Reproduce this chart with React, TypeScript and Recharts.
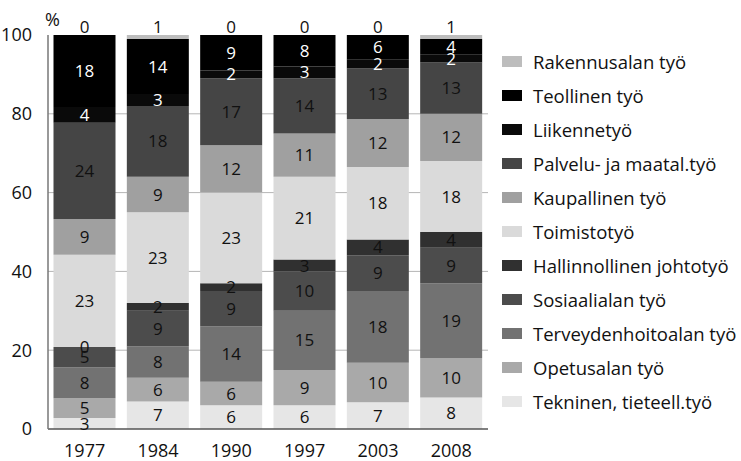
import React from 'react';
import { BarChart, Bar, XAxis, YAxis, CartesianGrid, LabelList } from 'recharts';

const years = ['1977', '1984', '1990', '1997', '2003', '2008'];

// stack order, bottom to top
const tekninen = [2.8, 7, 6, 6, 6.8, 8];
const opetus = [5, 6, 6, 9, 10, 10];
const terveys = [7.9, 8, 14, 15, 18.2, 19];
const sosiaali = [5.1, 9, 9, 10, 9.1, 9];
const hallinto = [0, 2, 2, 3, 4, 4];
const toimisto = [23.4, 23, 23, 21, 18.4, 18];
const kaupallinen = [9.1, 9, 12, 11, 12.2, 12];
const palvelu = [24.4, 18, 17, 14, 12.8, 13];
const liikenne = [4, 3, 2, 3, 2.2, 2];
const teollinen = [18.3, 14, 9, 8, 6.3, 4];
const rakennus = [0, 1, 0, 0, 0, 1];

const series = [
  { key: 'tekninen', name: 'Tekninen, tieteell.työ', values: tekninen, color: '#e6e6e6', text: '#111' },
  { key: 'opetus', name: 'Opetusalan työ', values: opetus, color: '#a9a9a9', text: '#111' },
  { key: 'terveys', name: 'Terveydenhoitoalan työ', values: terveys, color: '#727272', text: '#111' },
  { key: 'sosiaali', name: 'Sosiaalialan työ', values: sosiaali, color: '#4c4c4c', text: '#111' },
  { key: 'hallinto', name: 'Hallinnollinen johtotyö', values: hallinto, color: '#303030', text: '#111' },
  { key: 'toimisto', name: 'Toimistotyö', values: toimisto, color: '#dadada', text: '#111' },
  { key: 'kaupallinen', name: 'Kaupallinen työ', values: kaupallinen, color: '#a0a0a0', text: '#111' },
  { key: 'palvelu', name: 'Palvelu- ja maatal.työ', values: palvelu, color: '#454545', text: '#111' },
  { key: 'liikenne', name: 'Liikennetyö', values: liikenne, color: '#0a0a0a', text: '#fff' },
  { key: 'teollinen', name: 'Teollinen työ', values: teollinen, color: '#000000', text: '#fff' },
  { key: 'rakennus', name: 'Rakennusalan työ', values: rakennus, color: '#bdbdbd', text: '#111' },
];

const data = years.map((year, i) => {
  const row: any = { year };
  series.forEach(s => { row[s.key] = s.values[i]; });
  return row;
});

const FONT = '"Open Sans", "DejaVu Sans", sans-serif';

const App = () => {
  return (
    <div style={{ position: 'relative', width: 741, height: 461, background: '#fff', fontFamily: FONT }}>
      <style>{'body{margin:0}'}</style>
      <div style={{ position: 'absolute', left: 45, top: 7, fontSize: 18, color: '#111' }}>%</div>
      <BarChart
        width={490}
        height={461}
        data={data}
        margin={{ top: 35, right: 2, left: 6, bottom: 2 }}
        barCategoryGap="7.5%"
      >
        <CartesianGrid horizontal vertical={false} horizontalValues={[20, 40, 60, 80]} stroke="#b5b5b5" />
        <XAxis
          dataKey="year"
          tickLine={false}
          axisLine={{ stroke: '#555', strokeWidth: 1.5 }}
          tick={{ fontSize: 18, fill: '#111', fontFamily: FONT }}
          height={30}
          tickMargin={9}
        />
        <YAxis
          domain={[0, 100]}
          ticks={[0, 20, 40, 60, 80, 100]}
          tickLine={false}
          axisLine={{ stroke: '#777', strokeWidth: 1.5 }}
          tick={{ fontSize: 18, fill: '#111', fontFamily: FONT }}
          width={42}
          tickMargin={10}
        />
        {series.map(s => (
          <Bar
            key={s.key}
            dataKey={s.key}
            stackId="a"
            fill={s.color}
            minPointSize={0.01}
            isAnimationActive={false}
          >
            <LabelList
              dataKey={s.key}
              position={s.key === 'rakennus' ? 'top' : 'center'}
              offset={s.key === 'rakennus' ? 2 : 5}
              formatter={(v: any) => Math.round(Number(v))}
              style={{ fontSize: 17, fill: s.text, fontFamily: FONT }}
            />
          </Bar>
        ))}
      </BarChart>
      <div style={{ position: 'absolute', left: 502, top: 44 }}>
        {[...series].reverse().map(s => (
          <div key={s.key} style={{ display: 'flex', alignItems: 'center', height: 34.1 }}>
            <div style={{ width: 20, height: 11, background: s.color, marginRight: 11 }} />
            <span style={{ fontSize: 18.5, color: '#111', whiteSpace: 'nowrap' }}>{s.name}</span>
          </div>
        ))}
      </div>
    </div>
  );
};

export default App;
